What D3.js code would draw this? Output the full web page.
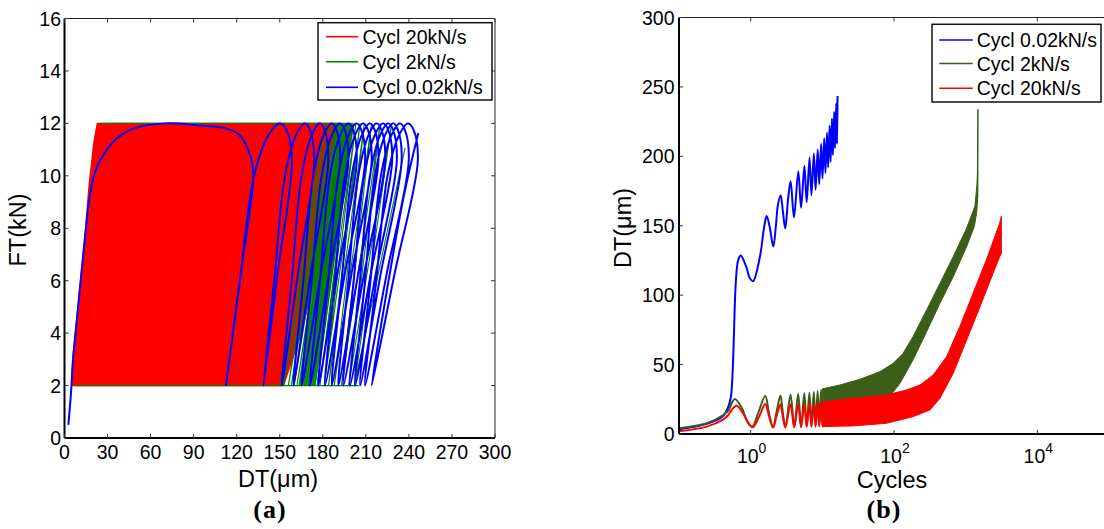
<!DOCTYPE html>
<html><head><meta charset="utf-8">
<script src="https://cdn.jsdelivr.net/npm/d3@7"></script>
<style>
body{margin:0;background:#fff}
svg{display:block}
text{font-family:"Liberation Sans",Arial,Helvetica,sans-serif;fill:#000}
</style>
</head><body>
<svg id="chart" width="1104" height="529"></svg>
<script>
// ================= DATA: panel (a)  FT(kN) vs DT(µm) =================
const xTicksA = [0,30,60,90,120,150,180,210,240,270,300];
const yTicksA = [0,2,4,6,8,10,12,14,16];
const legendA = ["Cycl 20kN/s","Cycl 2kN/s","Cycl 0.02kN/s"];
// red (20kN/s): dense loops that fill a region -> outline of the filled envelope
const redEnvelopeA = [[5,2],[5.7,3],[9.6,5.1],[14.3,7.7],[17.3,9.7],[20.6,11.3],[22.9,12],
  [190,12],[183,9],[176,6.5],[165,4],[152.5,2]];
// green (2kN/s): densest part of the loops (outline), loop bottoms (FT=2) and tops (FT=12)
const greenDenseA = [[163,2],[175,2],[202,12],[189,12]];
const greenBottomsA = [150,153,156,158,160,162,164,165.5,167,168.5,170,171.5,173,174.5,176,178,181,184,188,193,198,202];
const greenTopsA    = [182,184.5,187,188.5,190,191.5,193,194,195,196,197,198,199,200,201,203,206,209,214,220,228];
const greenEndA = [237.3,11.06];
const greenTopEdgeA = [[25,12],[200,12]];
const greenBottomEdgeA = [[7,2],[205,2]];
// blue (0.02kN/s): first loading then 16 loops
const blueInitA = [[2.7,0.5],[4.5,1.7],[6,3],[9.5,5],[14,7.5],[17.5,9.2],[21,10.1],[26,10.7],[36,11.4],[48,11.8],
  [71,12],[94,11.92],[113,11.8],[122,11.55],[128,11.0],[131,10.4],[131.6,9.9]];
const blueBottomsA = [112.5,138.6,151.4,159.5,165.3,171.1,176.9,181.5,186.2,190.8,194.3,198.9,202.5,206,209.4,214.1];
const blueTopsA    = [150.2,167.6,178,186.2,192,197.8,203.6,208.2,212.9,217.6,222.2,225.7,229.1,233.8,239.6];
const blueEndA = [[236,9.1],[246.6,11.63]];

// ================= DATA: panel (b)  DT(µm) vs Cycles (log) =================
const yTicksB = [0,50,100,150,200,250,300];
const xTicksB = [1,100,10000];
const legendB = ["Cycl 0.02kN/s","Cycl 2kN/s","Cycl 20kN/s"];
const blueB = [[0.1,3.4],[0.243,7.3],[0.415,13.2],[0.487,19.5],[0.531,27],[0.553,39],[0.575,60],[0.594,85],
  [0.614,105],[0.644,120],[0.676,126],[0.726,128.5],[0.86,121],[0.98,112],[1.08,110],[1.35,128],[1.53,148],
  [1.67,157],[1.83,150],[2.07,135],[2.25,150],[2.4,165],[2.62,172],[2.82,160],[3.04,148],[3.31,168],[3.61,182],
  [4.02,156],[4.62,189],[5.05,163],[5.62,193],[6.05,167],[6.62,199],[7.05,172],[7.62,202],[8.05,176],[8.62,205],
  [9.05,180],[9.62,209],[10.05,184],[10.62,213],[11.05,188],[11.62,217],[12.05,192],[12.62,222],[13.05,196],
  [13.62,227],[14.05,201],[14.62,232],[15.05,206],[15.62,238],[16.05,209],[16.3,243.5]];
const greenB = [[0.1,4.2],[0.243,7.7],[0.415,13.7],[0.487,16.8],[0.542,22],[0.6,25.2],[0.75,19],[0.9,9],[1.05,5.3],
  [1.25,14],[1.6,27.4],[1.8,15],[2.05,5],[2.3,16],[2.6,27.8],[2.8,16],[3.05,5],[3.6,28.3],[4.05,5.2],[4.6,28.8],
  [5.05,5.4],[5.6,29.3],[6.05,5.6],[6.6,29.8],[7.05,5.8],[7.6,30.3],[8.05,6],[8.6,31],[9.05,6.3],[9.6,31.8],
  [10.05,6.6],[10.6,32.5]];
const redB = [[0.1,2],[0.243,5.3],[0.415,10.6],[0.487,13.7],[0.542,17.3],[0.64,20.4],[0.8,14],[0.95,7],[1.07,4.8],
  [1.3,12],[1.6,21.6],[1.8,13],[2.05,4.6],[2.3,13],[2.6,21.5],[2.8,13],[3.05,4.7],[3.6,21.5],[4.05,4.8],[4.6,21.6],
  [5.05,4.9],[5.6,21.8],[6.05,5],[6.6,22],[7.05,5.1],[7.6,22.2],[8.05,5.2],[8.6,22.5],[9.05,5.3],[9.6,22.8],
  [10.05,5.4],[10.6,23.1]];
// dense cycling bands (upper / lower envelopes)
const greenUpperB = [[10,32.5],[17.6,35.3],[33.4,39.4],[63.5,44.9],[97.5,50.9],[134,58.1],[184,70.1],[285,89.3],
  [438,108.6],[670,127.7],[1030,148.2],[1343,163.8],[1445,180.6],[1470,190]];
const greenLowerB = [[10,6.6],[20,9],[40,14],[78.6,24],[121,36.5],[184,53.3],[285,73.7],[438,94.2],[670,113.3],
  [1030,134.9],[1320,149.4],[1430,160],[1470,170]];
const greenSpikeB = [[1460,170],[1476,205],[1482,234]];
const redUpperB = [[10,23.1],[27,25.7],[78.6,28.1],[149,31.7],[230,35.3],[353,42.5],[541,55.7],[828,77.3],
  [1270,101.4],[1945,125.4],[2980,151.8],[3150,157]];
const redLowerB = [[10,5.4],[27,5.8],[78.6,7.7],[184,12.5],[317,17.3],[438,25.7],[670,43.7],[1030,67.7],
  [1585,91.7],[2415,115.8],[2980,127.7],[3150,130]];

// ================= DRAWING =================
const svg = d3.select("#chart");
const RED = "#ff0000", BLUE = "#0000ff", GREEN_A = "#008000", GREEN_B = "#3b5e18";
const TICKFS = 19.5, LABFS = 23.5;

function frame(g, left, right, top, bottom) {
  g.append("line").attr("x1",left).attr("x2",right).attr("y1",top).attr("y2",top).attr("stroke","#222").attr("stroke-width",1);
  g.append("line").attr("x1",right).attr("x2",right).attr("y1",top).attr("y2",bottom).attr("stroke","#222").attr("stroke-width",1);
  g.append("line").attr("x1",left).attr("x2",right).attr("y1",bottom).attr("y2",bottom).attr("stroke","#000").attr("stroke-width",2);
  g.append("line").attr("x1",left).attr("x2",left).attr("y1",top).attr("y2",bottom).attr("stroke","#000").attr("stroke-width",2);
}

// ---------- Panel (a) ----------
{
  const L=64.5, R=495, T=18.5, B=438;
  const x = d3.scaleLinear().domain([0,300]).range([L,R]);
  const y = d3.scaleLinear().domain([0,16]).range([B,T]);
  const g = svg.append("g");
  g.append("clipPath").attr("id","clipA").append("rect").attr("x",L).attr("y",T).attr("width",R-L).attr("height",B-T);
  const d = g.append("g").attr("clip-path","url(#clipA)");
  const mk = (curve)=>d3.line().x(p=>x(p[0])).y(p=>y(p[1])).curve(curve);

  // red envelope
  d.append("path").attr("d", mk(d3.curveLinearClosed)(redEnvelopeA)).attr("fill",RED).attr("stroke",RED).attr("stroke-width",1.5);

  // green dense part + zigzag loops
  d.append("path").attr("d", mk(d3.curveLinearClosed)(greenDenseA)).attr("fill",GREEN_A).attr("fill-opacity",0.85).attr("stroke","none");
  const gpts = [];
  greenBottomsA.forEach((b,i)=>{ gpts.push([b,2]); if(i<greenTopsA.length) gpts.push([greenTopsA[i],12]); });
  gpts.push(greenEndA);
  d.append("path").attr("d", mk(d3.curveLinear)(gpts)).attr("fill","none").attr("stroke",GREEN_A).attr("stroke-width",1.1);
  [greenTopEdgeA, greenBottomEdgeA].forEach(e=>{
    d.append("path").attr("d", mk(d3.curveLinear)(e)).attr("stroke",GREEN_A).attr("stroke-width",1.3).attr("fill","none");
  });

  // blue loops
  const bpts = blueInitA.slice();
  blueBottomsA.forEach((b,i)=>{
    const prev = bpts[bpts.length-1];
    bpts.push([(prev[0]+b)/2,(prev[1]+2)/2]);
    bpts.push([b,2]);
    if(i<blueTopsA.length){
      const t = blueTopsA[i], w = t-b, ov = 0.22*w;
      bpts.push([b+0.26*w,6],[b+0.52*w,10],[b+0.8*w,11.6],[t,12],[t+0.55*ov,11.75],[t+ov,10.6]);
    }
  });
  blueEndA.forEach(p=>bpts.push(p));
  d.append("path").attr("d", mk(d3.curveCatmullRom.alpha(0.5))(bpts)).attr("fill","none").attr("stroke",BLUE).attr("stroke-width",2);

  frame(g,L,R,T,B);
  xTicksA.forEach(v=>{
    g.append("line").attr("x1",x(v)).attr("x2",x(v)).attr("y1",B).attr("y2",B-4).attr("stroke","#333");
    g.append("line").attr("x1",x(v)).attr("x2",x(v)).attr("y1",T).attr("y2",T+4).attr("stroke","#333");
    g.append("text").attr("x",x(v)).attr("y",B+20.5).attr("text-anchor","middle").attr("font-size",TICKFS).text(v);
  });
  yTicksA.forEach(v=>{
    g.append("line").attr("x1",L).attr("x2",L+4).attr("y1",y(v)).attr("y2",y(v)).attr("stroke","#333");
    g.append("line").attr("x1",R).attr("x2",R-4).attr("y1",y(v)).attr("y2",y(v)).attr("stroke","#333");
    g.append("text").attr("x",L-3.5).attr("y",y(v)+7).attr("text-anchor","end").attr("font-size",TICKFS).text(v);
  });
  g.append("text").attr("x",278).attr("y",487).attr("text-anchor","middle").attr("font-size",LABFS).text("DT(μm)");
  g.append("text").attr("transform","translate(26,230) rotate(-90)").attr("text-anchor","middle").attr("font-size",LABFS).text("FT(kN)");
  g.append("text").attr("x",270).attr("y",518).attr("text-anchor","middle")
    .style("font-family","'Liberation Serif','Times New Roman',serif").style("font-weight","bold").style("letter-spacing","1px")
    .attr("font-size",26).text("(a)");

  const lg = g.append("g");
  lg.append("rect").attr("x",318).attr("y",22.7).attr("width",174).attr("height",77.3).attr("fill","#fff").attr("stroke","#111").attr("stroke-width",1.5);
  const colsA = [RED, GREEN_A, BLUE], rowsA = [36.7, 61.7, 87.3];
  legendA.forEach((s,i)=>{
    lg.append("line").attr("x1",326).attr("x2",358).attr("y1",rowsA[i]).attr("y2",rowsA[i]).attr("stroke",colsA[i]).attr("stroke-width",1.6);
    lg.append("text").attr("x",362.5).attr("y",rowsA[i]+7).attr("font-size",TICKFS).text(s);
  });
}

// ---------- Panel (b) ----------
{
  const L=679, R=1109, T=17.5, B=434;
  const x = d3.scaleLog().domain([0.1,1e5]).range([L,R]);
  const y = d3.scaleLinear().domain([0,300]).range([B,T]);
  const g = svg.append("g");
  g.append("clipPath").attr("id","clipB").append("rect").attr("x",L).attr("y",T).attr("width",R-L).attr("height",B-T);
  const d = g.append("g").attr("clip-path","url(#clipB)");
  const mk = (curve)=>d3.line().x(p=>x(p[0])).y(p=>y(p[1])).curve(curve);
  const smooth = mk(d3.curveCatmullRom.alpha(0.5));

  d.append("path").attr("d", smooth(blueB)).attr("fill","none").attr("stroke",BLUE).attr("stroke-width",2);
  const gPoly = greenUpperB.concat(greenLowerB.slice().reverse());
  d.append("path").attr("d", mk(d3.curveLinearClosed)(gPoly)).attr("fill",GREEN_B).attr("stroke",GREEN_B).attr("stroke-width",1);
  d.append("path").attr("d", smooth(greenB)).attr("fill","none").attr("stroke",GREEN_B).attr("stroke-width",2);
  d.append("path").attr("d", mk(d3.curveLinear)(greenSpikeB)).attr("fill","none").attr("stroke",GREEN_B).attr("stroke-width",1.5);
  const rPoly = redUpperB.concat(redLowerB.slice().reverse());
  d.append("path").attr("d", mk(d3.curveLinearClosed)(rPoly)).attr("fill",RED).attr("stroke",RED).attr("stroke-width",1);
  d.append("path").attr("d", smooth(redB)).attr("fill","none").attr("stroke",RED).attr("stroke-width",2);

  frame(g,L,R,T,B);
  xTicksB.forEach(v=>{
    g.append("line").attr("x1",x(v)).attr("x2",x(v)).attr("y1",B).attr("y2",B-4).attr("stroke","#333");
    g.append("line").attr("x1",x(v)).attr("x2",x(v)).attr("y1",T).attr("y2",T+4).attr("stroke","#333");
    const t = g.append("text").attr("x",x(v)+1).attr("y",B+29.3).attr("text-anchor","middle").attr("font-size",TICKFS);
    t.append("tspan").text("10");
    t.append("tspan").attr("dy",-10).attr("font-size",14).text(Math.round(Math.log10(v)));
  });
  yTicksB.forEach(v=>{
    g.append("line").attr("x1",L).attr("x2",L+4).attr("y1",y(v)).attr("y2",y(v)).attr("stroke","#333");
    g.append("text").attr("x",L-4.5).attr("y",y(v)+7).attr("text-anchor","end").attr("font-size",TICKFS).text(v);
  });
  g.append("text").attr("x",892).attr("y",488).attr("text-anchor","middle").attr("font-size",LABFS).text("Cycles");
  g.append("text").attr("transform","translate(631,228) rotate(-90)").attr("text-anchor","middle").attr("font-size",LABFS).text("DT(μm)");
  g.append("text").attr("x",884).attr("y",518).attr("text-anchor","middle")
    .style("font-family","'Liberation Serif','Times New Roman',serif").style("font-weight","bold").style("letter-spacing","1px")
    .attr("font-size",26).text("(b)");

  const lg = g.append("g");
  lg.append("rect").attr("x",932).attr("y",24.3).attr("width",169).attr("height",77.7).attr("fill","#fff").attr("stroke","#111").attr("stroke-width",1.5);
  const colsB = [BLUE, GREEN_B, RED], rowsB = [40, 63.5, 88.3];
  legendB.forEach((s,i)=>{
    lg.append("line").attr("x1",939.3).attr("x2",972.7).attr("y1",rowsB[i]).attr("y2",rowsB[i]).attr("stroke",colsB[i]).attr("stroke-width",1.6);
    lg.append("text").attr("x",976.7).attr("y",rowsB[i]+7).attr("font-size",TICKFS).text(s);
  });
}
</script>
</body></html>
